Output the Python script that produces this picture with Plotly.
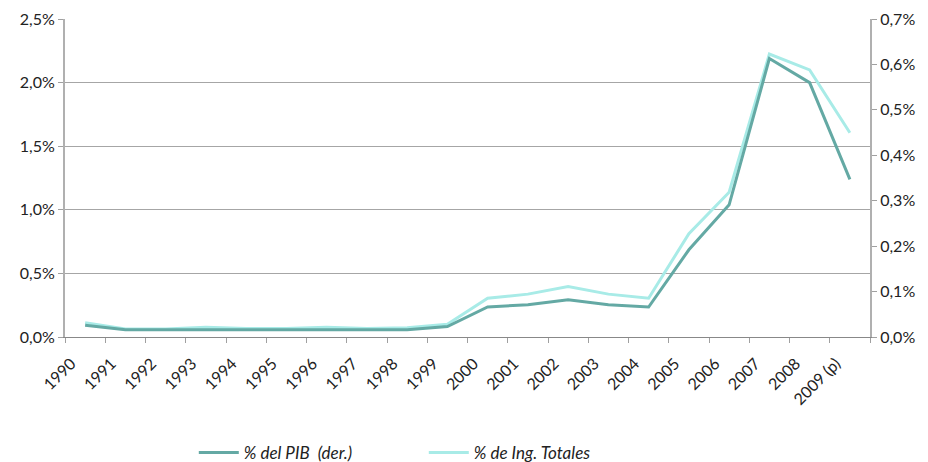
import plotly.graph_objects as go

years = ["1990", "1991", "1992", "1993", "1994", "1995", "1996", "1997", "1998", "1999",
         "2000", "2001", "2002", "2003", "2004", "2005", "2006", "2007", "2008", "2009 (p)"]

# % del PIB (right axis)
pib = [0.026, 0.016, 0.016, 0.016, 0.016, 0.016, 0.016, 0.016, 0.016, 0.023,
       0.066, 0.071, 0.082, 0.071, 0.066, 0.192, 0.291, 0.613, 0.560, 0.347]

# % de Ing. Totales (left axis)
ing = [0.113, 0.063, 0.063, 0.076, 0.066, 0.066, 0.076, 0.066, 0.073, 0.100,
       0.305, 0.337, 0.397, 0.337, 0.305, 0.812, 1.138, 2.224, 2.100, 1.606]

left_ticks = [0, 0.5, 1.0, 1.5, 2.0, 2.5]
left_labels = ["0,0%", "0,5%", "1,0%", "1,5%", "2,0%", "2,5%"]
right_ticks = [0, 0.1, 0.2, 0.3, 0.4, 0.5, 0.6, 0.7]
right_labels = ["0,0%", "0,1%", "0,2%", "0,3%", "0,4%", "0,5%", "0,6%", "0,7%"]

DARK = "#64a9a4"
LIGHT = "#a8ebe7"
FONT = "Lato, 'Open Sans', sans-serif"

fig = go.Figure()
fig.add_trace(go.Scatter(
    x=years, y=pib, name="% del PIB&nbsp;&nbsp;(der.)", mode="lines",
    line=dict(color=DARK, width=3), yaxis="y2"))
fig.add_trace(go.Scatter(
    x=years, y=ing, name="% de Ing. Totales", mode="lines",
    line=dict(color=LIGHT, width=3), yaxis="y"))

fig.update_layout(
    width=928, height=462,
    margin=dict(l=65, r=58, t=19, b=125, autoexpand=False),
    plot_bgcolor="white", paper_bgcolor="white",
    font=dict(family=FONT, size=16, color="#222222"),
    showlegend=True,
    legend=dict(orientation="h", x=0.160, xanchor="left", y=-0.365, yanchor="middle",
                font=dict(size=17, style="italic", color="#222222"),
                itemwidth=40, entrywidthmode="pixels", entrywidth=175),
    xaxis=dict(
        type="category", tickson="boundaries", ticks="outside", ticklen=5,
        tickcolor="#a0a0a0", showline=True, linecolor="#888888", linewidth=1,
        showgrid=False, tickangle=-45, tickfont=dict(size=16),
        ticklabelshift=-14, ticklabelstandoff=10,
        range=[-0.5, 19.5], automargin=False),
    yaxis=dict(
        range=[0, 2.5], tickvals=left_ticks, ticktext=left_labels,
        showgrid=True, gridcolor="#a6a6a6", gridwidth=1,
        showline=True, linecolor="#b0b0b0", linewidth=2,
        ticks="outside", ticklen=5, tickcolor="#a0a0a0",
        zeroline=False, tickfont=dict(size=16), automargin=False),
    yaxis2=dict(
        range=[0, 0.7], tickvals=right_ticks, ticktext=right_labels,
        overlaying="y", side="right", showgrid=False,
        showline=True, linecolor="#b0b0b0", linewidth=2,
        ticks="outside", ticklen=5, tickcolor="#a0a0a0",
        zeroline=False, tickfont=dict(size=16), automargin=False),
)

fig.write_html("out.html", config={"displayModeBar": False},
               post_script="document.body.style.margin='0';")
